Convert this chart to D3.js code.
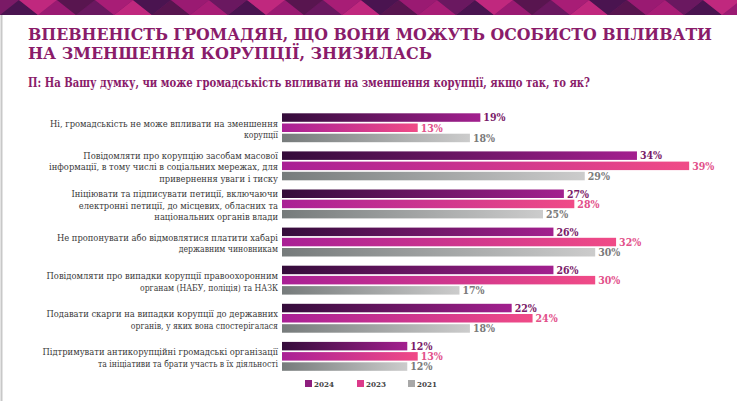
<!DOCTYPE html>
<html>
<head>
<meta charset="utf-8">
<script src="https://cdn.jsdelivr.net/npm/d3@7"></script>
<style>
  body { margin: 0; background: #fff; }
  svg { display: block; }
</style>
</head>
<body>
<div id="chart"></div>
<script>
// Data
const categories = [
  ["Ні, громадськість не може впливати на зменшення", "корупції"],
  ["Повідомляти про корупцію засобам масової", "інформації, в тому числі в соціальних мережах, для", "привернення уваги і тиску"],
  ["Ініціювати та підписувати петиції, включаючи", "електронні петиції, до місцевих, обласних та", "національних органів влади"],
  ["Не пропонувати або відмовлятися платити хабарі", "державним чиновникам"],
  ["Повідомляти про випадки корупції правоохоронним", "органам (НАБУ, поліція) та НАЗК"],
  ["Подавати скарги на випадки корупції до державних", "органів, у яких вона спостерігалася"],
  ["Підтримувати антикорупційні громадські організації", "та ініціативи та брати участь в їх діяльності"]
];
const years = ["2024", "2023", "2021"];
const values2024 = [19, 34, 27, 26, 26, 22, 12];
const values2023 = [13, 39, 28, 32, 30, 24, 13];
const values2021 = [18, 29, 25, 30, 17, 18, 12];

const title = ["ВПЕВНЕНІСТЬ ГРОМАДЯН, ЩО ВОНИ МОЖУТЬ ОСОБИСТО ВПЛИВАТИ", "НА ЗМЕНШЕННЯ КОРУПЦІЇ, ЗНИЗИЛАСЬ"];
const subtitle = "П: На Вашу думку, чи може громадськість впливати на зменшення корупції, якщо так, то як?";

const series = [
  { year: "2024", values: values2024, from: "#340c3a", to: "#a3208f", label: "#7a1a68", legend: "#8e1e7e" },
  { year: "2023", values: values2023, from: "#a91f95", to: "#f04b87", label: "#e2508a", legend: "#dc3a8a" },
  { year: "2021", values: values2021, from: "#767b7b", to: "#cccccc", label: "#7a7a7a", legend: "#a8a8a8" }
];

const width = 737;
const height = 401;
const serif = "DejaVu Serif Condensed, DejaVu Serif, Liberation Serif, serif";

const svg = d3.select("#chart")
  .append("svg")
  .attr("width", width)
  .attr("height", height);

svg.append("rect").attr("width", width).attr("height", height).attr("fill", "#fff");

// Decorative banner of triangles
const bannerColors = ["#4a1450", "#9a1a72", "#6a1860", "#c0287e", "#58154f", "#a81d76"];
const triW = 38, bannerH = 15;
const tris = d3.range(0, Math.ceil(width / triW) + 1);
const banner = svg.append("g");
banner.append("rect").attr("width", width).attr("height", bannerH).attr("fill", "#7a1a66");
banner.selectAll(".tri-up")
  .data(tris)
  .enter()
  .append("path")
  .attr("d", i => `M${i * triW},${bannerH} L${i * triW + triW / 2},0 L${(i + 1) * triW},${bannerH} Z`)
  .attr("fill", i => bannerColors[i % bannerColors.length]);
banner.selectAll(".tri-down")
  .data(tris)
  .enter()
  .append("path")
  .attr("d", i => `M${i * triW + triW / 2},0 L${(i + 1) * triW},${bannerH} L${(i + 1) * triW + triW / 2},0 Z`)
  .attr("fill", i => bannerColors[(i + 3) % bannerColors.length]);

// left frame line
svg.append("line")
  .attr("x1", 1.5).attr("x2", 1.5)
  .attr("y1", bannerH).attr("y2", height)
  .attr("stroke", "#c8c8c8").attr("stroke-width", 2);

// Title and subtitle
svg.append("text")
  .attr("x", 28).attr("y", 40)
  .attr("textLength", 684).attr("lengthAdjust", "spacingAndGlyphs")
  .attr("font-family", serif).attr("font-weight", "bold").attr("font-size", 17)
  .attr("fill", "#8a1c6a")
  .text(title[0]);
svg.append("text")
  .attr("x", 28).attr("y", 58.5)
  .attr("textLength", 404).attr("lengthAdjust", "spacingAndGlyphs")
  .attr("font-family", serif).attr("font-weight", "bold").attr("font-size", 17)
  .attr("fill", "#8a1c6a")
  .text(title[1]);
svg.append("text")
  .attr("x", 28).attr("y", 87.3)
  .attr("textLength", 562).attr("lengthAdjust", "spacingAndGlyphs")
  .attr("font-family", serif).attr("font-weight", "bold").attr("font-size", 12)
  .attr("fill", "#8a1c6a")
  .text(subtitle);

// Gradients
const defs = svg.append("defs");
series.forEach(s => {
  const g = defs.append("linearGradient")
    .attr("id", "grad" + s.year)
    .attr("x1", "0%").attr("x2", "100%").attr("y1", "0%").attr("y2", "0%");
  g.append("stop").attr("offset", "0%").attr("stop-color", s.from);
  g.append("stop").attr("offset", "100%").attr("stop-color", s.to);
});

// Scales
const xScale = d3.scaleLinear()
  .domain([0, 40])
  .range([282, 282 + 40 * 10.44]);

const y0 = d3.scaleBand()
  .domain(d3.range(categories.length))
  .range([108.6, 108.6 + 7 * 38.1]);

const y1 = d3.scaleBand()
  .domain(years)
  .range([4.7, 33.6])
  .paddingInner(0.167);

// Category labels
const labelG = svg.append("g");
categories.forEach((lines, i) => {
  const cy = y0(i) + 4.7 + 15.5;
  const lh = 11.6;
  const startY = cy - (lines.length - 1) * lh / 2 + 3.5;
  const t = labelG.append("text")
    .attr("text-anchor", "end")
    .attr("font-family", serif)
    .attr("fill", "#3a3a3a");
  lines.forEach((ln, j) => {
    t.append("tspan")
      .attr("x", 278)
      .attr("y", startY + j * lh)
      .attr("font-size", (j > 0 && lines.length === 2) ? 8.6 : 9.3)
      .text(ln);
  });
});

// Bars
const groups = svg.selectAll(".grp")
  .data(categories.map((c, i) => i))
  .enter()
  .append("g")
  .attr("class", "grp")
  .attr("transform", i => `translate(0, ${y0(i)})`);

series.forEach(s => {
  groups.append("rect")
    .attr("x", xScale(0))
    .attr("y", y1(s.year))
    .attr("width", i => xScale(s.values[i]) - xScale(0))
    .attr("height", y1.bandwidth())
    .attr("fill", `url(#grad${s.year})`);

  groups.append("text")
    .attr("x", i => xScale(s.values[i]) + 3)
    .attr("y", y1(s.year) + y1.bandwidth() / 2 + 3.8)
    .attr("font-family", serif)
    .attr("font-weight", "bold")
    .attr("font-size", 10.5)
    .attr("fill", s.label)
    .text(i => s.values[i] + "%");
});

// Legend
const legendX = [305, 357, 408];
const legend = svg.selectAll(".legend")
  .data(series)
  .enter()
  .append("g")
  .attr("class", "legend")
  .attr("transform", (d, i) => `translate(${legendX[i]}, 380)`);
legend.append("rect")
  .attr("width", 7).attr("height", 7)
  .attr("fill", d => d.legend);
legend.append("text")
  .attr("x", 9).attr("y", 7)
  .attr("font-family", serif)
  .attr("font-weight", "bold")
  .attr("font-size", 8)
  .attr("fill", "#444")
  .text(d => d.year);
</script>
</body>
</html>
